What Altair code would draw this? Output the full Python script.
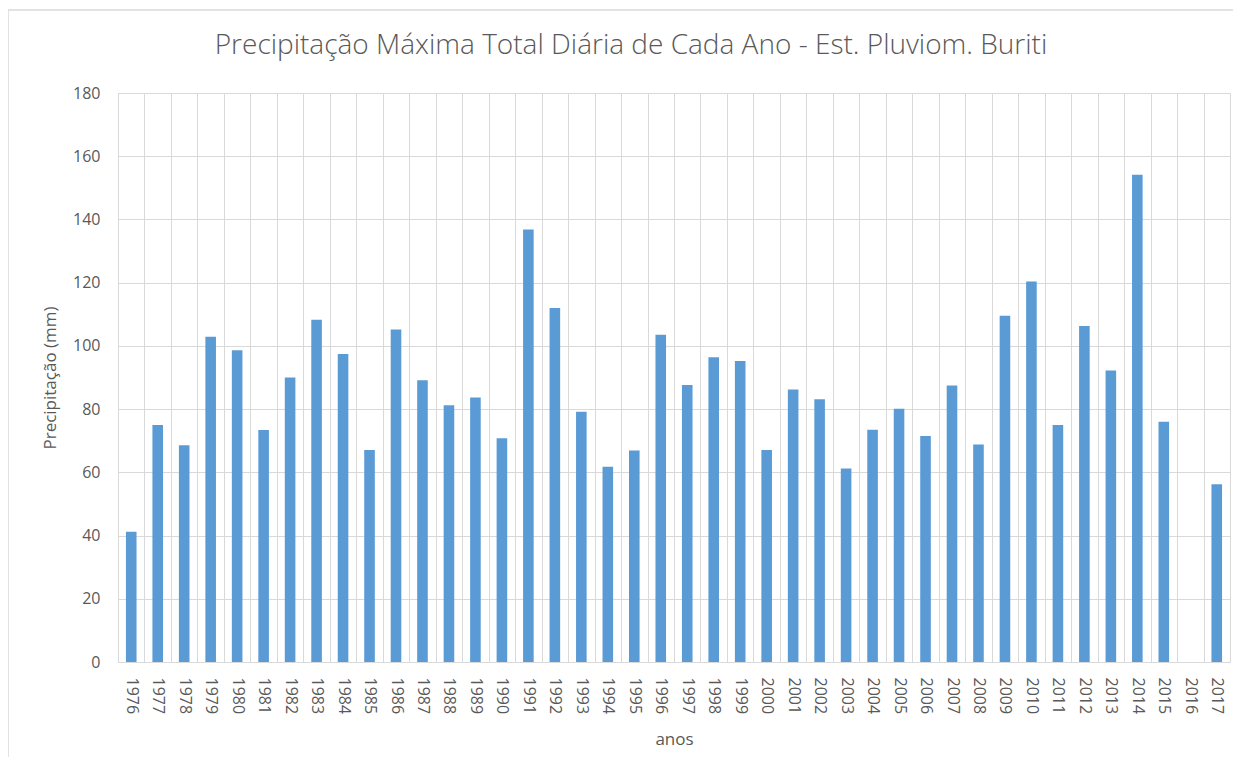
import altair as alt
import pandas as pd

years = [str(y) for y in range(1976, 2018)]
values = [41.2, 75.0, 68.6, 102.9, 98.6, 73.4, 90.0, 108.3, 97.4, 67.1,
          105.2, 89.1, 81.2, 83.7, 70.8, 136.8, 112.0, 79.2, 61.8, 66.9,
          103.5, 87.6, 96.4, 95.2, 67.1, 86.2, 83.1, 61.2, 73.5, 80.1,
          71.5, 87.5, 68.8, 109.5, 120.4, 75.0, 106.3, 92.2, 154.1, 76.0,
          None, 56.2]
y_ticks = [0, 20, 40, 60, 80, 100, 120, 140, 160, 180]

df = pd.DataFrame({"ano": years, "prec": values})

GRAY = "#595959"
GRID = "#d9d9d9"
FONT = "Open Sans"

bars = alt.Chart(df).mark_bar(color="#5B9BD5", width=alt.RelativeBandSize(0.4)).encode(
    x=alt.X("ano:N", sort=years,
            scale=alt.Scale(domain=years, paddingInner=0, paddingOuter=0),
            axis=alt.Axis(title="anos", tickBand="extent", grid=True, gridColor=GRID,
                          ticks=False, domain=True, domainColor=GRID,
                          labelAngle=90, labelAlign="left", labelBaseline="middle",
                          labelPadding=15, labelFont=FONT, labelFontSize=16, labelColor=GRAY,
                          titleFont=FONT, titleFontSize=17, titleFontWeight="normal",
                          titleColor=GRAY, titleX=556, titleY=77, titleBaseline="middle",
                          titleAlign="center")),
    y=alt.Y("prec:Q", scale=alt.Scale(domain=[0, 180], nice=False),
            axis=alt.Axis(title="Precipitação (mm)", values=y_ticks, grid=True, gridColor=GRID,
                          ticks=False, domain=False, labelPadding=18, labelFont=FONT,
                          labelFontSize=16, labelColor=GRAY,
                          titleFont=FONT, titleFontSize=17, titleFontWeight="normal",
                          titleColor=GRAY, titleX=-68, titleY=284.5, titleAngle=270,
                          titleAlign="center", titleBaseline="middle")),
)

frame_df = pd.DataFrame({"k": [0]})
left_border = alt.Chart(frame_df).mark_rule(color=GRID, strokeWidth=1.5).encode(
    x=alt.value(-110), y=alt.value(-83), y2=alt.value(700))
top_border = alt.Chart(frame_df).mark_rule(color=GRID, strokeWidth=1.5).encode(
    x=alt.value(-110), x2=alt.value(1200), y=alt.value(-83))

chart = alt.layer(left_border, top_border, bars).properties(
    width=1112, height=569,
    autosize=alt.AutoSizeParams(type="none"),
    padding={"left": 110, "top": 85, "right": 3, "bottom": 95},
    title=alt.TitleParams("Precipitação Máxima Total Diária de Cada Ano - Est. Pluviom. Buriti",
                          font=FONT, fontSize=28, fontWeight=300, color=GRAY,
                          anchor="middle", dx=-43, offset=-73, baseline="alphabetic"),
).configure_view(stroke=GRID).configure(background="white")

chart.save("out.html", embed_options={"renderer": "svg", "actions": False})
